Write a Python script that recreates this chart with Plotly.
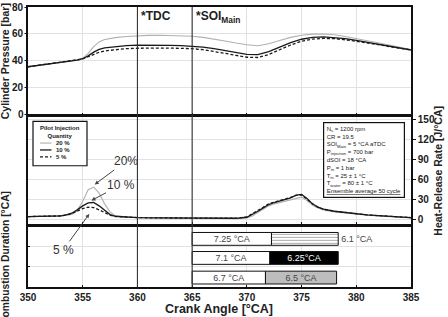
import plotly.graph_objects as go

# ---------------- data ----------------
series_names = ["20 %", "10 %", "5 %"]

ca_p = [350, 351, 352, 353, 354, 354.5, 355, 355.5, 356, 356.5, 357, 358, 359, 360, 361, 362, 363,
        364, 365, 366, 367, 368, 369, 370, 371, 372, 373, 374, 375, 376, 377, 378, 379, 380, 381,
        382, 383, 384, 385]
p20 = [35.5, 36.6, 37.6, 38.6, 39.8, 40.6, 41.8, 45.5, 50.5, 54, 55.8, 57.2, 58, 58.6, 58.9, 59,
       58.9, 58.6, 58.2, 57.4, 56.2, 54.7, 53.2, 51.9, 51.2, 52.6, 55, 57.4, 59, 59.8, 59.9, 59.3,
       58.1, 56.6, 55, 53.4, 51.7, 50, 48.3]
p10 = [35.5, 36.6, 37.6, 38.6, 39.8, 40.5, 41.5, 43.6, 46.4, 48.4, 49.6, 50.7, 51.3, 51.6, 51.7,
       51.6, 51.4, 51.2, 50.9, 50.2, 49, 47.5, 46, 44.8, 44.6, 46.8, 50.2, 53.5, 56, 57.4, 57.8,
       57.4, 56.5, 55.2, 53.8, 52.4, 50.9, 49.5, 48]
p5 = [35.5, 36.6, 37.6, 38.6, 39.8, 40.4, 41.3, 43, 44.9, 46.3, 47.3, 48.4, 49, 49.3, 49.5, 49.5,
      49.4, 49.2, 49, 48.2, 47, 45.5, 44, 42.6, 42.4, 44.6, 48.2, 51.7, 54.5, 56.1, 56.6, 56.4,
      55.6, 54.5, 53.3, 52, 50.6, 49.3, 48]

hrr_ca = [350, 351, 352, 353, 353.5, 354, 354.5, 355, 355.5, 356, 356.5, 357, 357.5, 358, 359, 360,
          362, 364, 366, 368, 369, 370, 370.5, 371, 371.5, 372, 372.5, 373, 373.5, 374, 374.5, 375,
          375.5, 376, 376.5, 377, 378, 379, 380, 381, 382, 383, 384, 385]
h20 = [5, 5, 5.5, 6, 7, 8, 14, 28, 45, 49, 40, 24, 12, 6, 4, 3.5, 3, 3, 2.5, 2, 2, 3, 6, 11, 16,
       21, 24, 26, 28, 30, 33, 34, 29, 22, 18, 15, 12, 10, 8.5, 7, 6, 5, 4, 3]
h10 = [5, 5, 5.5, 6, 7.5, 10, 15, 21, 25.5, 26, 21, 14, 8, 5.5, 4, 3.5, 3, 3, 2.5, 2, 2.5, 4, 8,
       13, 18, 23, 26, 28, 30, 33, 37, 38, 32, 24, 19, 16, 13, 11, 9, 7.5, 6.5, 5.5, 4.5, 3.5]
h5 = [5, 5, 5.5, 6, 7.5, 9.5, 13, 17, 19, 18.5, 15, 11, 7, 5, 4, 3.5, 3, 3, 2.5, 2, 2.5, 4.5, 9,
      14, 19, 24, 27, 29, 31, 34, 36.5, 37.5, 31, 24, 19, 16, 13, 11, 9, 7.5, 6.5, 5.5, 4.5, 3.5]

# combustion durations (bottom panel)
row_pos = [2.4, 1.45, 0.47]
soi_main = 365
pilot_dur = [7.25, 7.1, 6.7]
main_dur = [6.1, 6.25, 6.5]

tdc = 360
x_ticks = [350, 355, 360, 365, 370, 375, 380, 385]
p_ticks = [0, 20, 40, 60, 80]
hrr_ticks = [0, 30, 60, 90, 120, 150]

# ---------------- styles ----------------
FONT = "Liberation Sans, Arial, sans-serif"
line_styles = [dict(color="#b0b0b0", width=1.1),
               dict(color="#1a1a1a", width=1.3),
               dict(color="#1a1a1a", width=1.3, dash="3px,2px")]
GRID = "#e2e2e2"
TXT = "#222222"

W, H = 448, 317
ML, MR, MT, MB = 28, 37, 3, 30
PW, PH = W - ML - MR, H - MT - MB


def px(x):
    return (x - ML) / PW


def py(y):
    return (H - MB - y) / PH


fig = go.Figure()

press = [p20, p10, p5]
hrr = [h20, h10, h5]
for i, name in enumerate(series_names):
    fig.add_trace(go.Scatter(x=ca_p, y=press[i], mode="lines", line=line_styles[i],
                             name=name, showlegend=False, xaxis="x", yaxis="y"))
for i, name in enumerate(series_names):
    fig.add_trace(go.Scatter(x=hrr_ca, y=hrr[i], mode="lines", line=line_styles[i],
                             name=name, showlegend=False, xaxis="x2", yaxis="y2"))

# bottom panel bars
fig.add_trace(go.Bar(y=row_pos, x=pilot_dur, base=[soi_main] * 3, orientation="h", width=0.64,
                     marker=dict(color="white", line=dict(color="#111", width=1)),
                     text=[f"{v:g} °CA" for v in pilot_dur], textposition="inside",
                     insidetextanchor="middle",
                     textfont=dict(family=FONT, size=9, color="#444"),
                     showlegend=False, xaxis="x3", yaxis="y3"))
main_base = [soi_main + d for d in pilot_dur]
fig.add_trace(go.Bar(y=row_pos, x=main_dur, base=main_base, orientation="h", width=0.64,
                     marker=dict(color=["white", "#000000", "#bdbdbd"],
                                 line=dict(color="#111", width=1),
                                 pattern=dict(shape=["-", "", ""], fgcolor="#333",
                                              size=3, solidity=0.3)),
                     text=[f"{main_dur[0]:g} °CA", f"{main_dur[1]:g}°CA", f"{main_dur[2]:g} °CA"],
                     textposition=["outside", "inside", "inside"],
                     insidetextanchor="middle",
                     textfont=dict(family=FONT, size=9, color=["#444", "white", "#444"]),
                     cliponaxis=False,
                     showlegend=False, xaxis="x3", yaxis="y3"))

# ---------------- layout ----------------
tickfont = dict(family=FONT, size=10, color=TXT, weight="bold")
xcommon = dict(range=[350, 385], tickvals=x_ticks, showgrid=True, gridcolor=GRID, gridwidth=1,
               showline=True, linecolor="#111", linewidth=1.6, mirror=True, zeroline=False,
               ticks="inside", ticklen=2, tickcolor="#111")
ycommon = dict(showgrid=True, gridcolor=GRID, gridwidth=1, showline=True, linecolor="#111",
               linewidth=1.6, mirror=True, zeroline=False)

fig.update_layout(
    width=W, height=H,
    margin=dict(l=ML, r=MR, t=MT, b=MB, pad=0),
    paper_bgcolor="white", plot_bgcolor="white",
    font=dict(family=FONT, color=TXT),
    barmode="overlay",
    uniformtext=dict(minsize=9, mode="show"),
    showlegend=False,
    xaxis=dict(xcommon, anchor="y", showticklabels=False, domain=[0, 1]),
    xaxis2=dict(xcommon, anchor="y2", showticklabels=False, domain=[0, 1], matches="x"),
    xaxis3=dict(xcommon, anchor="y3", showticklabels=True, domain=[0, 1], matches="x",
                tickfont=tickfont),
    yaxis=dict(ycommon, domain=[py(112), 1.0], range=[0, 80], tickvals=p_ticks,
               showticklabels=False, side="left",
               ticks="outside", ticklen=2, tickcolor="#111", anchor="x"),
    yaxis2=dict(ycommon, domain=[py(223), py(115)], range=[-5.9, 152.9], tickvals=hrr_ticks,
                ticklabeloverflow="allow",
                tickfont=tickfont, side="right", ticks="outside", ticklen=3, tickcolor="#111",
                anchor="x2"),
    yaxis3=dict(ycommon, domain=[0, py(226)], range=[0, 3], tickvals=[1, 2],
                showticklabels=False, ticks="inside", ticklen=2, tickcolor="#111", anchor="x3"),
)

# vertical reference lines (TDC, SOI main)
shapes = []
for xv in [tdc, soi_main]:
    shapes.append(dict(type="line", xref="x", yref="paper", x0=xv, x1=xv, y0=0, y1=1,
                       line=dict(color="#333", width=1.1), layer="above"))

ann = []
# pressure-axis tick labels, placed on the pressure scale
for v in p_ticks:
    ann.append(dict(x=px(25), y=v, xref="paper", yref="y", xanchor="right", yanchor="middle",
                    text=f"<b>{v}</b>", showarrow=False, bgcolor="white", borderpad=0,
                    font=dict(family=FONT, size=10, color="#1a1a1a")))
ann.append(dict(x=tdc + 0.15, y=py(12), xref="x", yref="paper", xanchor="left", yanchor="middle",
                text="<b>*TDC</b>", showarrow=False, font=dict(family=FONT, size=12, color=TXT)))
ann.append(dict(x=soi_main + 0.15, y=py(13.5), xref="x", yref="paper", xanchor="left",
                yanchor="middle", text="<b>*SOI<sub>Main</sub></b>", showarrow=False,
                font=dict(family=FONT, size=12, color=TXT)))
# axis titles
ann.append(dict(x=px(13), y=py(58), xref="paper", yref="paper", textangle=-90,
                xanchor="right", yanchor="middle",
                text="<b>Cylinder Pressure [bar]</b>", showarrow=False,
                font=dict(family=FONT, size=10.5, color=TXT)))
ann.append(dict(x=px(13), y=py(257), xref="paper", yref="paper", textangle=-90,
                xanchor="right", yanchor="middle",
                text="<b>Combustion Duration [°CA]</b>", showarrow=False,
                font=dict(family=FONT, size=10.3, color=TXT)))
ann.append(dict(x=px(438), y=py(169), xref="paper", yref="paper", textangle=-90,
                xanchor="center", yanchor="middle",
                text="<b>Heat-Release Rate [J/°CA]</b>", showarrow=False,
                font=dict(family=FONT, size=10.5, color=TXT)))
ann.append(dict(x=px(219), y=py(309), xref="paper", yref="paper",
                xanchor="center", yanchor="middle",
                text="<b>Crank Angle [°CA]</b>", showarrow=False,
                font=dict(family=FONT, size=12.5, color=TXT)))
# percentage call-outs
callouts = [("20%", 356.1, 53, 31, -23), ("10 %", 355.8, 29, 30, -16), ("5 %", 355.6, 9, -26, 36)]
for txt, xv, yv, axv, ayv in callouts:
    ann.append(dict(x=xv, y=yv, xref="x2", yref="y2", text=txt, showarrow=True,
                    ax=axv, ay=ayv, arrowhead=2, arrowsize=0.8, arrowwidth=1,
                    arrowcolor="#444", font=dict(family=FONT, size=12, color="#333")))
# info box
info = ("N<sub>s</sub> = 1200 rpm<br>CR = 19.5<br>SOI<sub>Main</sub> = 5 °CA aTDC<br>"
        "P<sub>injection</sub> = 700 bar<br>dSOI = 18 °CA<br>P<sub>in</sub> = 1 bar<br>"
        "T<sub>in</sub> = 25 ± 1 °C<br>T<sub>water</sub> = 80 ± 1 °C<br>"
        "<u>Ensemble average 50 cycle</u>")
ann.append(dict(x=px(323), y=py(120), xref="paper", yref="paper", xanchor="left", yanchor="top",
                text=info, align="left", showarrow=False, bgcolor="white",
                bordercolor="#111", borderwidth=1.2, borderpad=2.5,
                font=dict(family=FONT, size=6, color=TXT)))

# legend box (drawn manually to keep it compact)
shapes.append(dict(type="rect", xref="paper", yref="paper", x0=px(33), x1=px(87),
                   y0=py(164), y1=py(119), line=dict(color="#111", width=1.2),
                   fillcolor="white", layer="above"))
ann.append(dict(x=px(60), y=py(129.5), xref="paper", yref="paper", xanchor="center",
                yanchor="middle", text="<b>Pilot Injection</b><br><b>Quantity</b>",
                showarrow=False, font=dict(family=FONT, size=6, color=TXT)))
leg_y = [141, 148, 155]
for i, name in enumerate(series_names):
    shapes.append(dict(type="line", xref="paper", yref="paper", x0=px(40), x1=px(51.5),
                       y0=py(leg_y[i]), y1=py(leg_y[i]), line=line_styles[i], layer="above"))
    ann.append(dict(x=px(54), y=py(leg_y[i]), xref="paper", yref="paper", xanchor="left",
                    yanchor="middle", text=f"<b>{name}</b>", showarrow=False,
                    font=dict(family=FONT, size=6, color=TXT)))

fig.update_layout(annotations=ann, shapes=shapes)

fig.write_html("out.html")
